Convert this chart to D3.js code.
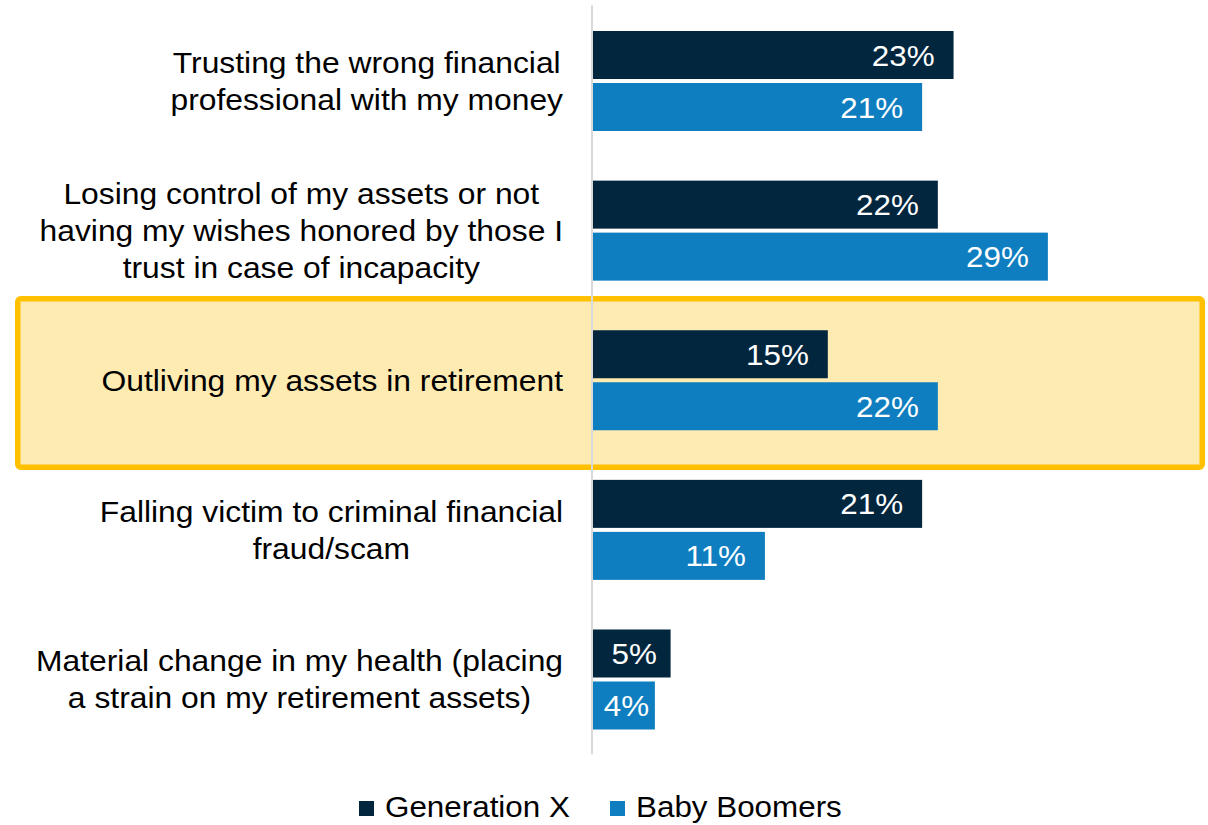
<!DOCTYPE html>
<html>
<head>
<meta charset="utf-8">
<script src="https://cdn.jsdelivr.net/npm/d3@7"></script>
<style>
  html, body { margin: 0; padding: 0; background: #ffffff; }
  svg { display: block; }
</style>
</head>
<body>
<svg id="chart" width="1208" height="825"></svg>
<script>
// Concerns about retirement, share of respondents by generation
const categories = [
  "Trusting the wrong financial professional with my money",
  "Losing control of my assets or not having my wishes honored by those I trust in case of incapacity",
  "Outliving my assets in retirement",
  "Falling victim to criminal financial fraud/scam",
  "Material change in my health (placing a strain on my retirement assets)"
];
const categoryLines = [
  ["Trusting the wrong financial", "professional with my money"],
  ["Losing control of my assets or not", "having my wishes honored by those I", "trust in case of incapacity"],
  ["Outliving my assets in retirement"],
  ["Falling victim to criminal financial", "fraud/scam"],
  ["Material change in my health (placing", "a strain on my retirement assets)"]
];
const seriesNames = ["Generation X", "Baby Boomers"];
const genX = [23, 22, 15, 21, 5];
const babyBoomers = [21, 29, 22, 11, 4];
const highlighted = "Outliving my assets in retirement";

const colors = { "Generation X": "#03263f", "Baby Boomers": "#0e7ec0" };
const FONT = "'Liberation Sans', Arial, Helvetica, sans-serif";
const SX = 1.09; // slight horizontal widening of the type
const LABEL_SIZE = 29.2;
const LABEL_RIGHT = 563;

const svg = d3.select("#chart");

const x = d3.scaleLinear().domain([0, 35]).range([592, 592 + 35 * 15.72]);
const y0 = d3.scaleBand().domain(categories).range([6.2, 754.3])
  .paddingInner(0.3316).paddingOuter(0.1658);
const y1 = d3.scaleBand().domain(seriesNames).range([0, y0.bandwidth()])
  .paddingInner(0.0769).paddingOuter(0);

const rows = categories.map((c, i) => ({
  category: c,
  lines: categoryLines[i],
  values: [
    { series: "Generation X", value: genX[i] },
    { series: "Baby Boomers", value: babyBoomers[i] }
  ]
}));

// Highlight box behind the emphasised category
const hb = y0(highlighted);
svg.append("rect")
  .attr("x", 17.75)
  .attr("y", hb - 31.5)
  .attr("width", 1184.5)
  .attr("height", 168.5)
  .attr("rx", 3).attr("ry", 3)
  .attr("fill", "#feebb2")
  .attr("stroke", "#ffc000")
  .attr("stroke-width", 5.5);

// Vertical baseline at zero
svg.append("line")
  .attr("x1", x(0)).attr("x2", x(0))
  .attr("y1", y0.range()[0] - 1).attr("y2", y0.range()[1])
  .attr("stroke", "#d9d9d9")
  .attr("stroke-width", 2);

// Bars
const groups = svg.append("g").selectAll("g")
  .data(rows).join("g")
  .attr("transform", d => `translate(0,${y0(d.category)})`);

groups.selectAll("rect")
  .data(d => d.values).join("rect")
  .attr("x", x(0) + 1)
  .attr("y", d => y1(d.series))
  .attr("width", d => x(d.value) - x(0) - 1)
  .attr("height", y1.bandwidth())
  .attr("fill", d => colors[d.series]);

// Value labels inside the bar ends
groups.selectAll("text.val")
  .data(d => d.values).join("text")
  .attr("class", "val")
  .attr("font-family", FONT)
  .attr("font-size", 28.8)
  .attr("fill", "#ffffff")
  .attr("text-anchor", "end")
  .text(d => d.value + "%")
  .each(function(d) {
    const tw = this.getComputedTextLength() * SX;
    const w = x(d.value) - x(0);
    const right = w < 110 ? x(0) + w / 2 + tw / 2 + 3 : x(d.value) - 19;
    const ty = y1(d.series) + y1.bandwidth() / 2 + 10.5;
    d3.select(this).attr("transform", `translate(${right},${ty}) scale(${SX},1)`);
  });

// Category labels: block right-aligned, lines centred within the block
const lineH = 37;
groups.each(function(d) {
  const g = d3.select(this);
  const t = g.append("text")
    .attr("font-family", FONT)
    .attr("font-size", LABEL_SIZE)
    .attr("fill", "#000000")
    .attr("text-anchor", "middle");
  const spans = t.selectAll("tspan")
    .data(d.lines.map((s, i) => ({ s, i, n: d.lines.length })))
    .join("tspan")
    .attr("x", 0)
    .attr("y", e => y0.bandwidth() / 2 + (e.i - (e.n - 1) / 2) * lineH + 10.5)
    .text(e => e.s);
  let maxW = 0;
  spans.each(function() { maxW = Math.max(maxW, this.getComputedTextLength()); });
  const cx = LABEL_RIGHT - (maxW * SX) / 2;
  t.attr("transform", `translate(${cx},0) scale(${SX},1)`);
});

// Legend
const legend = svg.append("g");
const legendX = [359, 610];
seriesNames.forEach((s, i) => {
  legend.append("rect")
    .attr("x", legendX[i]).attr("y", 801)
    .attr("width", 15).attr("height", 15)
    .attr("fill", colors[s]);
  legend.append("text")
    .attr("font-family", FONT)
    .attr("font-size", 28.8)
    .attr("fill", "#000000")
    .attr("transform", `translate(${legendX[i] + 26},817) scale(${SX},1)`)
    .text(s);
});
</script>
</body>
</html>
